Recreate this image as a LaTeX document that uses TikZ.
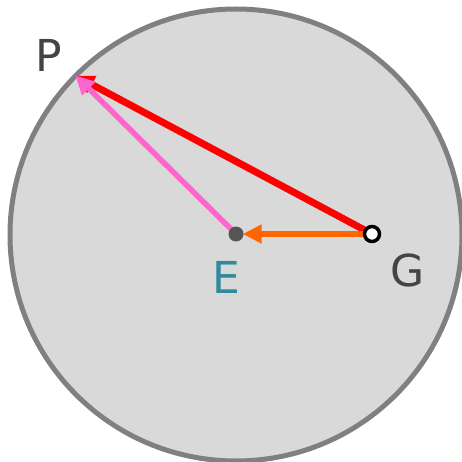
\documentclass[tikz,border=0pt]{standalone}
\usepackage{fontspec}
\setmainfont{DejaVu Sans}
\usetikzlibrary{arrows.meta}
\pgfdeclarelayer{bg}
\pgfsetlayers{bg,main}
\definecolor{fillgray}{HTML}{D9D9D9}
\definecolor{rimgray}{HTML}{808080}
\definecolor{labgray}{HTML}{444444}
\definecolor{eteal}{HTML}{318A9C}
\definecolor{dotgray}{HTML}{555555}
\definecolor{myred}{HTML}{FF0000}
\definecolor{mypink}{HTML}{FF66CC}
\definecolor{myorange}{HTML}{FF6600}
\tikzset{
  lab/.style={font=\fontsize{44}{44}\selectfont, text=labgray, inner sep=0pt},
  vec/.style={line width=5.5pt, -{Triangle[length=19pt,width=18pt]}, shorten >=-1pt},
}
\begin{document}
\begin{tikzpicture}[x=1pt,y=-1pt]
\useasboundingbox (0,0) rectangle (462,462);
\coordinate (P) at (76,76);
\node[circle, fill=dotgray, minimum size=15pt, inner sep=0pt] (E) at (236,234) {};
\node[circle, fill=white, draw=black, line width=3.5pt, minimum size=15pt, inner sep=0pt] (G) at (372,234) {};
\begin{pgfonlayer}{bg}
\draw[fill=fillgray, draw=rimgray, line width=5pt] (236,235) circle (226);
\draw[vec, myred, line width=7pt] (G.center) -- (P);
\draw[vec, mypink] (E.center) -- (P);
\draw[vec, myorange] (G.center) -- (E);
\end{pgfonlayer}
\node[lab] (Pl) at (49,55) {P};
\node[lab, text=eteal] (El) at (226,277) {E};
\node[lab] (Gl) at (408,270) {G};
\end{tikzpicture}
\end{document}
